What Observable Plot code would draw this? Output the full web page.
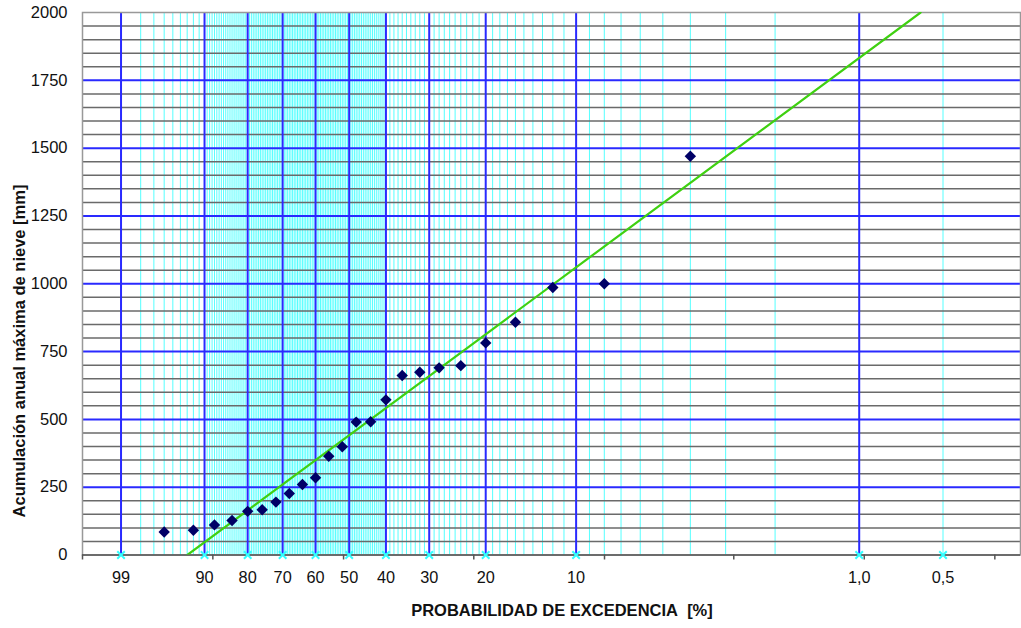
<!DOCTYPE html>
<html>
<head>
<meta charset="utf-8">
<script src="https://cdn.jsdelivr.net/npm/d3@7"></script>
<script src="https://cdn.jsdelivr.net/npm/@observablehq/plot@0.6"></script>
<style>
  body { margin: 0; background: #fff; }
  #chart svg { font-family: "Liberation Sans", Arial, sans-serif; display: block; }
</style>
</head>
<body>
<div id="chart"></div>
<script>
// Ranked annual maximum snow accumulation (mm) and their exceedance probabilities (%)
const exceedance = [4, 8, 12, 16, 20, 24, 28, 32, 36, 40, 44, 48, 52, 56, 60, 64, 68, 72, 76, 80, 84, 88, 92, 96];
const snowMax = [1470, 1000, 986, 858, 782, 698, 690, 674, 662, 572, 491, 490, 399, 364, 285, 260, 227, 195, 167, 161, 127, 111, 91, 85];

// Fitted Gumbel distribution (location, scale) in mm
const gumbelLoc = 321;
const gumbelScale = 328.6;
const fitRange = [0, 2000];

// Probability paper: labelled probabilities and their text
const labelledProbs = [99, 90, 80, 70, 60, 50, 40, 30, 20, 10, 1, 0.5];
const labelText = ["99", "90", "80", "70", "60", "50", "40", "30", "20", "10", "1,0", "0,5"];
const majorProbs = [99, 90, 80, 70, 60, 50, 40, 30, 20, 10, 1];
const minorProbs = [
  ...d3.range(98, 90, -1),
  ...d3.range(89.5, 40, -0.5).filter(p => p % 10 !== 0),
  ...d3.range(39, 1, -1).filter(p => p % 10 !== 0),
  0.5
];

// Value axis grid (mm)
const yMajor = [250, 500, 750, 1000, 1250, 1500, 1750];
const yLabels = [0, 250, 500, 750, 1000, 1250, 1500, 1750, 2000];
const yMinor = d3.range(50, 2000, 50).filter(v => v % 250 !== 0);

// Bottom axis tick positions (Gumbel reduced variate)
const axisTicks = [-1.847, -0.765, 0.320, 1.401, 2.486, 3.559, 4.642, 5.726];

// Axis titles
const yTitle = "Acumulación anual máxima de nieve [mm]";
const xTitle = "PROBABILIDAD DE EXCEDENCIA\u00a0 [%]";

// Gumbel reduced variate of an exceedance probability in %
const reduced = p => -Math.log(-Math.log(1 - p / 100));

const points = exceedance.map((p, i) => ({p, v: snowMax[i]}));
const labelled = labelledProbs.map((p, i) => ({p, t: labelText[i]}));

// Excel-style diamond: a square turned 45 degrees
const diamond = {
  draw(context, size) {
    const h = Math.sqrt(size / Math.PI) * 1.5;
    context.moveTo(0, -h);
    context.lineTo(h, 0);
    context.lineTo(0, h);
    context.lineTo(-h, 0);
    context.closePath();
  }
};

const chart = Plot.plot({
  width: 1021,
  height: 628,
  marginLeft: 82,
  marginRight: 1,
  marginTop: 12,
  marginBottom: 73.5,
  x: {type: "linear", domain: [-1.847, 5.939], axis: null},
  y: {domain: [0, 2000], axis: null},
  marks: [
    // probability paper grid
    Plot.ruleX(minorProbs, {x: reduced, stroke: "#55ffff", strokeWidth: 1}),
    Plot.ruleY(yMinor, {stroke: "#6a6a6a", strokeWidth: 1.5}),
    Plot.ruleY(yMajor, {stroke: "#2a2aff", strokeWidth: 2}),
    Plot.ruleX(majorProbs, {x: reduced, stroke: "#2a2aff", strokeWidth: 2}),
    Plot.frame({stroke: "#999", strokeWidth: 1.5}),
    Plot.ruleY([0], {stroke: "#555", strokeWidth: 1.5}),
    Plot.axisX({ticks: axisTicks, tickFormat: () => "", tickSize: 5, stroke: "#555", strokeWidth: 1.5, label: null}),
    Plot.axisY({ticks: yLabels, tickFormat: d => String(d), tickSize: 0, tickPadding: 15, fontSize: 16.5, fill: "#111", label: null}),
    // fitted Gumbel line
    Plot.line(fitRange, {x: v => (v - gumbelLoc) / gumbelScale, y: v => v, stroke: "#3fd011", strokeWidth: 2.2, clip: true}),
    // probability markers and labels
    Plot.dot(labelled, {x: d => reduced(d.p), y: 0, symbol: "times", r: 3.5, stroke: "#33ffff", strokeWidth: 2}),
    Plot.text(labelled, {x: d => reduced(d.p), y: 0, text: "t", dy: 23, fontSize: 16.3, fill: "#111"}),
    // observed annual maxima
    Plot.dot(points, {x: d => reduced(d.p), y: "v", symbol: diamond, r: 3.8, fill: "#000066", stroke: "none"})
  ]
});

// axis titles
const svg = d3.select(chart);
svg.append("text")
  .attr("transform", "translate(19,351) rotate(-90)")
  .attr("text-anchor", "middle")
  .attr("dominant-baseline", "central")
  .attr("font-size", 16.5)
  .attr("font-weight", "bold")
  .attr("fill", "#111")
  .text(yTitle);
svg.append("text")
  .attr("x", 562)
  .attr("y", 610)
  .attr("text-anchor", "middle")
  .attr("dominant-baseline", "central")
  .attr("font-size", 16.5)
  .attr("font-weight", "bold")
  .attr("fill", "#111")
  .text(xTitle);

document.getElementById("chart").appendChild(chart);
</script>
</body>
</html>
